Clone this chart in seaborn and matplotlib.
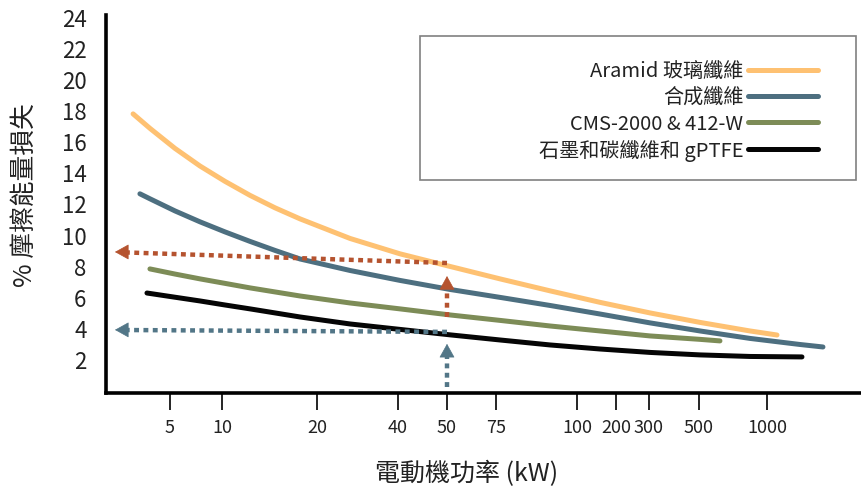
import numpy as np
import matplotlib
matplotlib.use('Agg')
import matplotlib.pyplot as plt
from matplotlib.patches import Rectangle
import seaborn as sns

# ticks of the (non-uniform) power axis
tick_kw = [5, 10, 20, 40, 50, 75, 100, 200, 300, 500, 1000]
tick_labels = ['5', '10', '20', '40', '50', '75', '100', '200', '300', '500', '1000']

# series (x in kW, y in % loss)
aramid_x = [3.27, 4.06, 5.48, 7.88, 10.32, 12.95, 15.58, 18.21, 28.15, 40.41, 51.53, 76.23,
            91.67, 158.97, 304, 507.4, 875, 1105]
aramid_y = [17.76, 16.83, 15.54, 14.41, 13.42, 12.52, 11.72, 11.01, 9.75, 8.76, 7.95, 7.15,
            6.38, 5.64, 4.96, 4.35, 3.80, 3.54]

synth_x = [3.59, 4.06, 5.48, 7.88, 10.32, 12.95, 15.58, 18.21, 28.15, 40.41, 51.53, 76.23,
           91.67, 158.97, 304, 507.4, 875, 1347, 1589]
synth_y = [12.62, 12.30, 11.52, 10.82, 10.17, 9.56, 8.98, 8.43, 7.69, 7.05, 6.47, 5.96,
           5.44, 4.89, 4.32, 3.80, 3.32, 2.93, 2.77]

cms_x = [4.06, 5.48, 7.88, 10.32, 12.95, 15.58, 18.21, 28.15, 40.41, 51.53, 76.23,
         91.67, 158.97, 304, 507.4, 654]
cms_y = [7.79, 7.46, 7.15, 6.86, 6.57, 6.31, 6.05, 5.60, 5.22, 4.83, 4.48,
         4.12, 3.80, 3.48, 3.26, 3.16]

graph_x = [3.92, 5.48, 7.88, 10.32, 12.95, 15.58, 18.21, 28.15, 40.41, 51.53, 76.23,
           91.67, 158.97, 304, 507.4, 875, 1368]
graph_y = [6.24, 5.97, 5.73, 5.47, 5.22, 4.96, 4.70, 4.25, 3.90, 3.55, 3.22,
           2.90, 2.64, 2.42, 2.26, 2.16, 2.13]

labels = ['Aramid 玻璃纖維', '合成纖維', 'CMS-2000 & 412-W', '石墨和碳纖維和 gPTFE']
colors = ['#FEC172', '#4D6F80', '#7D8C57', '#050505']

# guide arrows at 50 kW
red_h_x = [50, 2.94]
red_h_y = [8.17, 8.85]
red_h_tip = (2.42, 8.88)
red_v_x = [50, 50]
red_v_y = [4.70, 6.60]
red_v_tip = (50, 7.33)
blue_h_x = [50, 2.94]
blue_h_y = [3.74, 3.86]
blue_h_tip = (2.42, 3.87)
blue_v_x = [50, 50]
blue_v_y = [0.20, 2.25]
blue_v_tip = (50, 2.97)

sns.set_style('white')
plt.rcParams['font.family'] = ['Noto Sans CJK TC', 'DejaVu Sans']

# piecewise scale that reproduces the hand-spaced axis
knot_val = [2, 5, 10, 20, 40, 50, 75, 100, 200, 300, 500, 1000, 2000]
knot_pos = [106, 170, 222, 317, 398, 447, 496, 577, 616, 649, 699, 767, 862]

def fwd(v):
    return np.interp(v, knot_val, knot_pos)

def inv(p):
    return np.interp(p, knot_pos, knot_val)

fig = plt.figure(figsize=(8.62, 4.89), dpi=100)
ax = fig.add_axes([106 / 862, 1 - 394 / 489, 1 - 106 / 862, (394 - 16) / 489])
ax.set_xscale('function', functions=(fwd, inv))

series = [(aramid_x, aramid_y), (synth_x, synth_y), (cms_x, cms_y), (graph_x, graph_y)]
for (xs, ys), lab, col in zip(series, labels, colors):
    sns.lineplot(x=xs, y=ys, ax=ax, color=col, linewidth=3.6, label=lab, sort=False,
                 solid_capstyle='round', solid_joinstyle='round')

red = '#B5532F'
blue = '#527687'
for xs, ys, tip, col, off in [(red_h_x, red_h_y, red_h_tip, red, (9, 0)),
                              (red_v_x, red_v_y, red_v_tip, red, (0, -9)),
                              (blue_h_x, blue_h_y, blue_h_tip, blue, (9, 0)),
                              (blue_v_x, blue_v_y, blue_v_tip, blue, (0, -9))]:
    ax.plot(xs, ys, color=col, linewidth=3.2, linestyle=(0, (1.1, 1)), dash_capstyle='butt')
    ax.annotate('', xy=tip, xytext=off, textcoords='offset points',
                arrowprops=dict(arrowstyle='-|>,head_length=0.9,head_width=0.5',
                                fc=col, ec=col, lw=0.5, shrinkA=0, shrinkB=0,
                                mutation_scale=10))

ax.set_xlim(2, 2000)
ax.set_ylim(-0.19, 24.12)
ax.set_xticks(tick_kw)
ax.set_xticklabels(tick_labels)
ax.minorticks_off()
ax.set_yticks(range(2, 25, 2))
ax.tick_params(axis='x', bottom=True, direction='out', length=12, width=1.2,
               labelsize=13, pad=6, color='black', labelcolor='#222222')
ax.tick_params(axis='y', left=False, length=0, labelsize=16, pad=14, labelcolor='#222222')

for s in ['top', 'right']:
    ax.spines[s].set_visible(False)
for s in ['left', 'bottom']:
    ax.spines[s].set_linewidth(2.6)
    ax.spines[s].set_color('black')

ax.set_xlabel('電動機功率 (kW)', fontsize=18, color='#222222')
ax.xaxis.set_label_coords((467 - 106) / 756, (394 - 461) / 378)
ax.set_ylabel('% 摩擦能量損失', fontsize=18.5, color='#222222')
ax.yaxis.set_label_coords((38 - 106) / 756, (394 - 195) / 378)

# legend box
fig.add_artist(Rectangle((420 / 862, 1 - 181 / 489), (856 - 420) / 862, (181 - 37) / 489,
                         transform=fig.transFigure, fill=False, edgecolor='#808080', linewidth=1.2))
leg = ax.legend(loc='upper right', bbox_to_anchor=(818 / 862, 1 - 62 / 489),
                bbox_transform=fig.transFigure, frameon=False, markerfirst=False,
                fontsize=14.5, handlelength=3.5, handletextpad=0.2, labelspacing=0.25,
                borderpad=0, borderaxespad=0)
for t in leg.get_texts():
    t.set_color('#222222')

fig.savefig('out.png', dpi=100)
